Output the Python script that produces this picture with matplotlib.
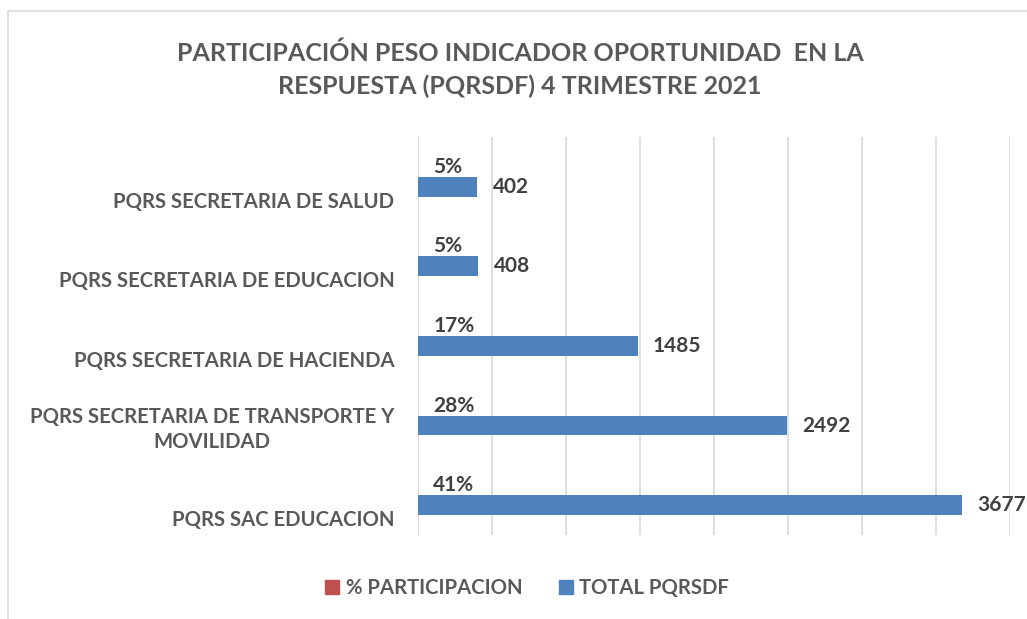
import numpy as np
import matplotlib
matplotlib.use("Agg")
import matplotlib.pyplot as plt
from matplotlib.patches import Rectangle, Patch
from matplotlib.transforms import ScaledTranslation

plt.rcParams['font.family'] = ['Lato', 'DejaVu Sans']
plt.rcParams['font.weight'] = 'bold'

# --- datos (de abajo hacia arriba) ---
categorias = [
    "PQRS SAC EDUCACION",
    "PQRS SECRETARIA DE TRANSPORTE Y\nMOVILIDAD",
    "PQRS SECRETARIA DE HACIENDA",
    "PQRS SECRETARIA DE EDUCACION",
    "PQRS SECRETARIA DE SALUD",
]
total_pqrsdf = [3677, 2492, 1485, 408, 402]
participacion = [0.41, 0.28, 0.17, 0.05, 0.05]

azul = "#4F81BD"
rojo = "#C0504D"
gris_texto = "#595959"
gris_dato = "#404040"

fig = plt.figure(figsize=(10.27, 6.19), dpi=100)
W, H = 1027, 619

# marco del grafico
fig.patches.append(Rectangle((8 / W, -0.1), 1.2, 1 - 11 / H + 0.1,
                             transform=fig.transFigure, fill=False,
                             edgecolor="#D9D9D9", linewidth=1.2))

ax = fig.add_axes([418 / W, 1 - 535 / H, (1010 - 418) / W, (535 - 137) / H])

y = np.arange(len(categorias))
h = 0.25
b_rojo = ax.barh(y + h / 2, participacion, height=h, color=rojo, label="% PARTICIPACION")
b_azul = ax.barh(y - h / 2, total_pqrsdf, height=h, color=azul, label="TOTAL PQRSDF")

pct = ax.bar_label(b_rojo, labels=[f"{p:.0%}" for p in participacion], padding=11,
                   fontsize=15, color=gris_dato, fontweight="bold")
for t in pct:
    t.set_transform(t.get_transform() + ScaledTranslation(0, -5 / 100, fig.dpi_scale_trans))
lbls = ax.bar_label(b_azul, labels=[str(v) for v in total_pqrsdf], padding=11,
                    fontsize=15, color=gris_dato, fontweight="bold")
for t in lbls:
    t.set_transform(t.get_transform() + ScaledTranslation(0, -9 / 100, fig.dpi_scale_trans))

ax.set_xlim(0, 4000)
ax.set_ylim(-0.5, len(categorias) - 0.5)
ax.set_xticks(np.arange(0, 4001, 500))
ax.tick_params(axis="x", labelbottom=False, length=0)
ax.tick_params(axis="y", length=0, pad=17)
ax.set_yticks(y)
ax.set_yticklabels(categorias, fontsize=14.6, color=gris_texto, fontweight="bold",
                   ha="right", multialignment="center", linespacing=1.35)
for t in ax.get_yticklabels():
    dy = -9 if "\n" in t.get_text() else -23
    t.set_transform(t.get_transform() + ScaledTranslation(0, dy / 100, fig.dpi_scale_trans))
ax.grid(axis="x", color="#D9D9D9", linewidth=1.2)
ax.set_axisbelow(True)
for s in ax.spines.values():
    s.set_visible(False)

fig.text(520 / W, 1 - 70 / H,
         "PARTICIPACIÓN PESO INDICADOR OPORTUNIDAD  EN LA\nRESPUESTA (PQRSDF) 4 TRIMESTRE 2021",
         ha="center", va="center", fontsize=18, fontweight="bold", color=gris_texto,
         linespacing=1.5)

handles = [Patch(color=rojo), Patch(color=azul)]
fig.legend(handles, ["% PARTICIPACION", "TOTAL PQRSDF"], loc="center",
           bbox_to_anchor=(527 / W, 1 - 588 / H), ncol=2, frameon=False,
           fontsize=14.6, labelcolor=gris_texto, handlelength=0.7, handleheight=0.7,
           handletextpad=0.3, columnspacing=1.8)

fig.savefig("out.png", dpi=100)
